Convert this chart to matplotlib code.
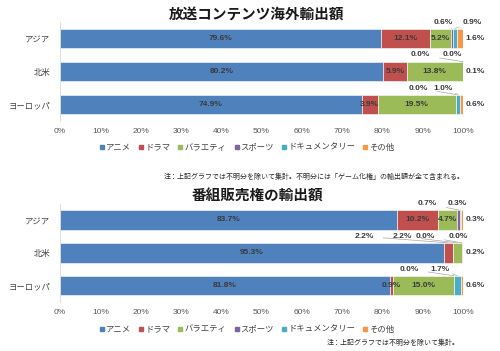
import matplotlib.pyplot as plt
import numpy as np
from matplotlib.lines import Line2D

plt.rcParams['font.family'] = ['Noto Sans CJK JP', 'DejaVu Sans']

# categories (top to bottom) and genres
regions = ["アジア", "北米", "ヨーロッパ"]
genres = ["アニメ", "ドラマ", "バラエティ", "スポーツ", "ドキュメンタリー", "その他"]
colors = ["#4F81BD", "#C0504D", "#9BBB59", "#8064A2", "#4BACC6", "#F79646"]

# 放送コンテンツ海外輸出額 (%), rows = regions, cols = genres
export_total = np.array([
    [79.6, 12.1, 5.2, 0.6, 0.9, 1.6],
    [80.2, 5.9, 13.8, 0.0, 0.0, 0.1],
    [74.9, 3.9, 19.5, 0.0, 1.0, 0.6],
])

# 番組販売権の輸出額 (%)
program_rights = np.array([
    [83.7, 10.2, 4.7, 0.7, 0.3, 0.3],
    [95.3, 2.2, 2.2, 0.0, 0.0, 0.2],
    [81.8, 0.9, 15.0, 0.0, 1.7, 0.6],
])

ticks = np.arange(0, 101, 10)
tick_labels = [f"{t}%" for t in ticks]

# label placement: "in" = centred in the bar, "right" = beside the bar,
# a number = callout above the bar at that x (percent)
top_place = [
    ["in", "in", "in", 95.0, 102.2, "right"],
    ["in", "in", "in", 89.4, 97.3, "right"],
    ["in", "in", "in", 88.8, 95.0, "right"],
]
bottom_place = [
    ["in", "in", "in", 91.1, 98.5, "right"],
    ["in", 75.4, 84.9, 90.6, 98.8, "right"],
    ["in", "in", "in", 86.6, 94.3, "right"],
]

W, H = 500, 351
fig = plt.figure(figsize=(W / 100, H / 100), dpi=100)
lab_color = "#3A3A3A"
num_font = ["Liberation Sans", "DejaVu Sans"]


def draw_chart(ax, data, place):
    y = np.arange(len(regions))
    left = np.zeros(len(regions))
    for j, g in enumerate(genres):
        vals = data[:, j]
        ax.barh(y, vals, left=left, height=0.6, color=colors[j],
                edgecolor="white", linewidth=0.4)
        for i in range(len(regions)):
            v = vals[i]
            cx = left[i] + v / 2
            p = place[i][j]
            txt = f"{v:.1f}%"
            kw = dict(fontsize=6, color=lab_color, fontweight="bold",
                      family=num_font)
            if p == "in":
                ax.text(cx, y[i], txt, ha="center", va="center", **kw)
            elif p == "right":
                ax.text(100.6, y[i], txt, ha="left", va="center",
                        clip_on=False, **kw)
            else:
                ax.annotate(txt, xy=(cx, y[i] - 0.3), xytext=(p, y[i] - 0.5),
                            ha="center", va="center", annotation_clip=False,
                            arrowprops=dict(arrowstyle="-", color="#A6A6A6",
                                            lw=0.5, shrinkA=5, shrinkB=0),
                            **kw)
        left = left + vals
    ax.set_xlim(0, 100)
    ax.set_ylim(len(regions) - 0.5, -0.5)
    ax.set_yticks(y)
    ax.set_yticklabels(regions, fontsize=6, color="#404040")
    ax.set_xticks(ticks)
    ax.set_xticklabels(tick_labels, fontsize=6, color="#595959",
                       family=num_font)
    ax.tick_params(length=0, pad=5)
    ax.tick_params(axis="y", pad=7)
    for s in ["top", "right", "bottom"]:
        ax.spines[s].set_visible(False)
    ax.spines["left"].set_color("#D9D9D9")
    ax.spines["left"].set_linewidth(0.6)


ax1 = fig.add_axes([60 / W, 1 - 121 / H, 403 / W, 99 / H])
draw_chart(ax1, export_total, top_place)
ax2 = fig.add_axes([60 / W, 1 - 302 / H, 403 / W, 98.5 / H])
draw_chart(ax2, program_rights, bottom_place)

fig.text(257 / W, 1 - 14 / H, "放送コンテンツ海外輸出額", ha="center", va="center",
         fontsize=10.5, fontweight="bold", color="#1A1A1A")
fig.text(257 / W, 1 - 196 / H, "番組販売権の輸出額", ha="center", va="center",
         fontsize=10.5, fontweight="bold", color="#1A1A1A")

handles = [Line2D([], [], marker="s", linestyle="none", markersize=3.5,
                  color=c) for c in colors]
for yc in [147, 329]:
    fig.legend(handles, genres, loc="center", bbox_to_anchor=(247 / W, 1 - yc / H),
               ncol=6, frameon=False, fontsize=6, handlelength=0.6,
               handletextpad=0.2, columnspacing=0.9, labelcolor="#404040")

fig.text(465 / W, 1 - 177 / H,
         "注：上記グラフでは不明分を除いて集計。不明分には「ゲーム化権」の輸出額が全て含まれる。",
         ha="right", va="center", fontsize=5, color="#262626")
fig.text(460 / W, 1 - 343 / H, "注：上記グラフでは不明分を除いて集計。",
         ha="right", va="center", fontsize=5, color="#262626")

fig.savefig("out.png", dpi=100)
